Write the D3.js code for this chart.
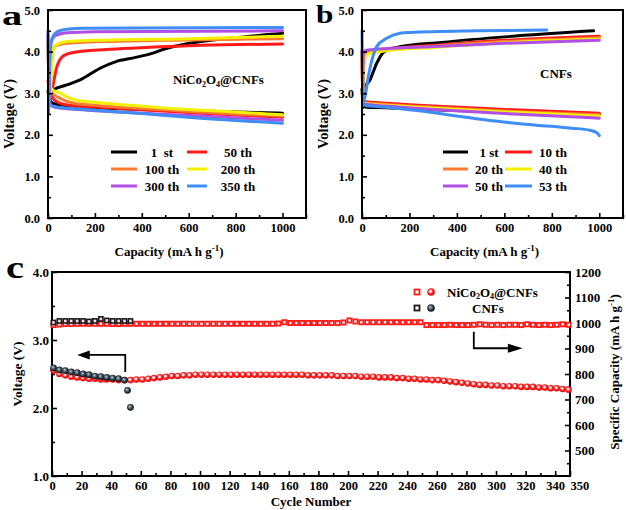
<!DOCTYPE html>
<html><head><meta charset="utf-8">
<script src="https://cdn.jsdelivr.net/npm/d3@7"></script>
<style>
body{margin:0;background:#fff}
svg{display:block}
text{font-family:"Liberation Serif","Times New Roman",serif;font-weight:bold;fill:#000}
</style>
</head><body>
<svg id="chart" width="626" height="510"></svg>
<script>
// ---------------- DATA ----------------
// Panel a (NiCo2O4@CNFs) : [capacity mAh/g, voltage V]
const labelsA = ["1  st", "50 th", "100 th", "200 th", "300 th", "350 th"];
const a1Charge   = [[10,3.0],[23,3.08],[80,3.2],[137,3.32],[222,3.6],[290,3.76],[365,3.85],[440,3.95],[507,4.08],[650,4.24],[792,4.33],[1000,4.44]];
const a1Dis      = [[0,3.05],[8,2.85],[20,2.76],[50,2.72],[150,2.67],[392,2.61],[507,2.59],[800,2.55],[1000,2.52]];
const a50Charge  = [[8,2.8],[23,3.24],[37,3.62],[66,3.9],[107,3.98],[249,4.05],[392,4.09],[650,4.15],[1000,4.18]];
const a50Dis     = [[0,3.3],[10,3.0],[25,2.85],[50,2.76],[100,2.7],[222,2.66],[400,2.6],[650,2.52],[1000,2.42]];
const a100Charge = [[8,2.9],[14,3.6],[20,4.02],[30,4.14],[80,4.2],[300,4.25],[600,4.28],[1000,4.31]];
const a100Dis    = [[0,4.2],[5,3.2],[15,3.02],[50,2.88],[110,2.76],[200,2.71],[500,2.6],[800,2.5],[1000,2.45]];
const a200Charge = [[10,3.0],[15,3.6],[20,4.0],[30,4.15],[80,4.24],[200,4.27],[600,4.31],[1000,4.37]];
const a200Dis    = [[0,4.2],[5,3.3],[15,3.1],[51,3.0],[107,2.85],[200,2.78],[350,2.71],[507,2.64],[792,2.55],[1000,2.48]];
const a300Charge = [[3,2.6],[8,3.8],[15,4.25],[30,4.38],[70,4.45],[200,4.48],[1000,4.5]];
const a300Dis    = [[0,4.4],[5,3.0],[10,2.72],[30,2.66],[100,2.62],[300,2.55],[650,2.45],[1000,2.35]];
const a350Charge = [[2,2.5],[5,3.6],[10,4.15],[20,4.35],[40,4.48],[80,4.54],[150,4.56],[400,4.57],[1000,4.58]];
const a350Dis    = [[0,4.5],[3,3.2],[6,2.78],[15,2.7],[40,2.66],[100,2.63],[200,2.59],[400,2.51],[650,2.4],[1000,2.28]];

// Panel b (CNFs)
const labelsB = ["1 st", "10 th", "20 th", "40 th", "50 th", "53 th"];
const b1Charge   = [[3,2.65],[8,3.1],[34,3.32],[62,3.72],[90,3.98],[146,4.1],[335,4.22],[616,4.36],[976,4.5]];
const b1Dis      = [[0,3.1],[5,2.7],[20,2.66],[100,2.65],[300,2.6],[600,2.55],[1000,2.5]];
const b10Charge  = [[3,2.8],[8,3.8],[20,3.97],[50,4.02],[100,4.06],[300,4.15],[600,4.27],[1000,4.37]];
const b10Dis     = [[0,4.0],[4,2.9],[10,2.8],[100,2.76],[300,2.69],[600,2.61],[1000,2.52]];
const b20Charge  = [[3,2.8],[8,3.75],[20,3.95],[50,4.0],[100,4.04],[300,4.13],[600,4.24],[1000,4.33]];
const b20Dis     = [[0,3.95],[4,2.85],[10,2.77],[100,2.73],[300,2.66],[600,2.57],[1000,2.48]];
const b40Charge  = [[3,2.8],[8,3.7],[20,3.93],[50,3.98],[100,4.02],[300,4.1],[600,4.21],[1000,4.3]];
const b40Dis     = [[0,3.93],[4,2.85],[10,2.75],[100,2.71],[300,2.64],[600,2.55],[1000,2.45]];
const b50Charge  = [[2,2.7],[6,3.9],[15,4.03],[50,4.05],[100,4.07],[300,4.12],[600,4.2],[1000,4.27]];
const b50Dis     = [[0,4.03],[4,2.85],[10,2.74],[100,2.69],[300,2.61],[600,2.51],[1000,2.4]];
const b53Charge  = [[2,2.7],[12,2.9],[30,3.5],[62,4.12],[104,4.32],[160,4.44],[203,4.46],[484,4.5],[779,4.52]];
const b53Dis     = [[0,4.5],[3,3.2],[6,2.75],[20,2.7],[62,2.68],[250,2.57],[400,2.45],[531,2.35],[700,2.25],[883,2.16],[960,2.11],[990,2.05],[1000,1.98]];

// Panel c : cycling
const cyclesNi = [1,5,9,13,17,21,25,29,33,37,41,45,49,53,57,61,65,69,73,77,81,85,89,93,97,101,105,109,113,117,121,125,129,133,137,141,145,149,153,157,161,165,169,173,177,181,185,189,193,197,201,205,209,213,217,221,225,229,233,237,241,245,249,253,257,261,265,269,273,277,281,285,289,293,297,301,305,309,313,317,321,325,329,333,337,341,345,349];
const capNi = [992,994,996,996,997,997,997,997,997,997,996,996,997,997,997,997,997,997,997,997,997,997,997,997,997,997,997,997,997,997,997,997,997,997,997,997,997,997,998,1003,1000,1000,1000,1000,1000,1000,1000,1000,1000,1002,1010,1006,1003,1003,1003,1003,1003,1003,1003,1003,1003,1003,1003,992,992,992,992,993,992,992,992,993,995,993,992,993,992,993,993,992,995,993,992,993,992,993,995,993];
const voltNi = [2.55,2.50,2.48,2.46,2.45,2.44,2.43,2.43,2.42,2.42,2.42,2.41,2.41,2.41,2.42,2.42,2.43,2.44,2.45,2.46,2.47,2.47,2.48,2.48,2.49,2.49,2.49,2.49,2.49,2.49,2.49,2.49,2.49,2.49,2.49,2.49,2.49,2.49,2.49,2.49,2.49,2.49,2.49,2.48,2.48,2.48,2.48,2.48,2.47,2.47,2.47,2.47,2.46,2.46,2.46,2.45,2.45,2.45,2.44,2.44,2.43,2.43,2.42,2.42,2.41,2.41,2.40,2.39,2.38,2.37,2.36,2.35,2.34,2.34,2.33,2.33,2.32,2.32,2.32,2.31,2.31,2.31,2.30,2.30,2.29,2.29,2.28,2.27];
const cyclesCnfCap = [1,5,9,13,17,21,25,29,33,37,41,45,49,53];
const capCnf = [1002,1008,1008,1008,1008,1008,1006,1008,1016,1010,1008,1008,1008,1008];
const cyclesCnfV = [1,5,9,13,17,21,25,29,33,37,41,45,49,51,53];
const voltCnf = [2.59,2.56,2.55,2.53,2.52,2.50,2.49,2.47,2.46,2.45,2.44,2.43,2.41,2.26,2.01];

const xTicksAB = [0,200,400,600,800,1000];
const yTicksAB = [0,1,2,3,4,5];
const xTicksC = [0,20,40,60,80,100,120,140,160,180,200,220,240,260,280,300,320,340,350];
const yTicksCL = [1,2,3,4];
const yTicksCR = [500,600,700,800,900,1000,1100,1200];

// ---------------- STYLE ----------------
const colors = ["#000000","#ff1a1a","#ff7a30","#f2f200","#b24de6","#3f8ef5"];
const FONT = '"Liberation Serif","Times New Roman",serif';

const svg = d3.select("#chart");
const defs = svg.append("defs");
function sphere(id, stops){
  const g = defs.append("radialGradient").attr("id", id).attr("cx","45%").attr("cy","45%").attr("r","55%").attr("fx","40%").attr("fy","38%");
  stops.forEach(s => g.append("stop").attr("offset", s[0]).attr("stop-color", s[1]));
}
sphere("gRed", [["0%","#ffffff"],["30%","#ffd0d0"],["55%","#ff2a2a"],["100%","#e60000"]]);
sphere("gDark", [["0%","#d8e4f0"],["30%","#6b7c8c"],["70%","#27323c"],["100%","#0c1016"]]);

function styleAxis(g, fs){
  g.select(".domain").remove();
  g.selectAll("line").attr("stroke","#000").attr("stroke-width",1.6);
  g.selectAll("text").attr("font-family",FONT).attr("font-size",fs).attr("font-weight","bold").attr("fill","#000");
}

// ---------------- PANELS a & b ----------------
function linePanel(x, y, curves, labels, legendPos, noteText, notePos){
  const [x0,x1] = x.range(), [y0,y1] = y.range();
  const g = svg.append("g");
  const line = d3.line().x(d=>x(d[0])).y(d=>y(d[1])).curve(d3.curveMonotoneX);
  curves.forEach((c,i)=>{
    c.forEach(arr=>{
      g.append("path").attr("d", line(arr)).attr("fill","none")
        .attr("stroke", colors[i]).attr("stroke-width",3).attr("stroke-linejoin","round").attr("stroke-linecap","round");
    });
  });
  // axes
  g.append("g").attr("transform",`translate(0,${y0})`)
    .call(d3.axisBottom(x).tickValues(xTicksAB).tickSize(-5).tickPadding(5).tickFormat(d3.format("d"))).call(s=>styleAxis(s,12.5));
  g.append("g").attr("transform",`translate(0,${y0})`)
    .call(d3.axisBottom(x).tickValues(xTicksAB.map(v=>v+100)).tickSize(-3).tickFormat("")).call(s=>styleAxis(s,12));
  g.append("g").attr("transform",`translate(${x0},0)`)
    .call(d3.axisLeft(y).tickValues(yTicksAB).tickSize(-5).tickPadding(8).tickFormat(d3.format(".1f"))).call(s=>styleAxis(s,12.5));
  g.append("g").attr("transform",`translate(${x0},0)`)
    .call(d3.axisLeft(y).tickValues(yTicksAB.slice(0,5).map(v=>v+0.5)).tickSize(-3).tickFormat("")).call(s=>styleAxis(s,12));
  g.append("rect").attr("x",x0).attr("y",y1).attr("width",x1-x0).attr("height",y0-y1)
    .attr("fill","none").attr("stroke","#000").attr("stroke-width",2);
  // axis titles
  const xt = g.append("text").attr("x",(x0+x1)/2 - 8).attr("y",256).attr("text-anchor","middle").attr("font-size",13);
  xt.append("tspan").text("Capacity (mA h g");
  xt.append("tspan").attr("font-size",9).attr("dy",-5).text("-1");
  xt.append("tspan").attr("dy",5).text(")");
  g.append("text").attr("transform",`translate(${x0-34},${(y0+y1)/2}) rotate(-90)`).attr("text-anchor","middle")
    .attr("font-size",14.5).text("Voltage (V)");
  // legend
  labels.forEach((lab,i)=>{
    const col = i%2, row = Math.floor(i/2);
    const lp = legendPos[col];
    const yy = legendPos.rows[row];
    g.append("line").attr("x1",lp.lx0).attr("x2",lp.lx1).attr("y1",yy).attr("y2",yy)
      .attr("stroke",colors[i]).attr("stroke-width",3);
    g.append("text").attr("x",lp.tx).attr("y",yy+4.5).attr("text-anchor","middle").attr("font-size",13)
      .attr("xml:space","preserve").style("white-space","pre").text(lab);
  });
  // note
  const nt = g.append("text").attr("x",notePos[0]).attr("y",notePos[1]).attr("font-size",13);
  noteText.forEach(p=>{
    const t = nt.append("tspan").text(p.t);
    if(p.sub){ t.attr("font-size",8).attr("dy",2.5); }
    else if(p.after){ t.attr("dy",-2.5); }
  });
  return g;
}

const xa = d3.scaleLinear([0,1100],[48,306]);
const ya = d3.scaleLinear([0,5],[218,10]);
linePanel(xa, ya,
  [[a1Charge,a1Dis],[a50Charge,a50Dis],[a100Charge,a100Dis],[a200Charge,a200Dis],[a300Charge,a300Dis],[a350Charge,a350Dis]],
  labelsA,
  {0:{lx0:111,lx1:137,tx:162},1:{lx0:187,lx1:207,tx:238},rows:[152,169,186]},
  [{t:"NiCo"},{t:"2",sub:true},{t:"O",after:true},{t:"4",sub:true},{t:"@CNFs",after:true}],
  [173,84]);

const xb = d3.scaleLinear([0,1100],[362,623]);
const yb = d3.scaleLinear([0,5],[218,10]);
linePanel(xb, yb,
  [[b1Charge,b1Dis],[b10Charge,b10Dis],[b20Charge,b20Dis],[b40Charge,b40Dis],[b50Charge,b50Dis],[b53Charge,b53Dis]],
  labelsB,
  {0:{lx0:443,lx1:468,tx:489},1:{lx0:505,lx1:532,tx:553},rows:[152,169,186]},
  [{t:"CNFs"}],
  [540,78]);

// panel letters
svg.append("text").attr("transform","translate(2,24.5) scale(1.5,1)").attr("font-size",27).text("a");
svg.append("text").attr("transform","translate(316,22.5) scale(1.25,1)").attr("font-size",25).text("b");
svg.append("text").attr("transform","translate(6,278) scale(1.35,1.05)").attr("font-size",30).text("c");

// ---------------- PANEL c ----------------
const xc = d3.scaleLinear([0,350],[52,570]);
const ycL = d3.scaleLinear([1,4],[476,272]);
const ycR = d3.scaleLinear([400,1200],[476,272]);
const gc = svg.append("g");

// axes
gc.append("g").attr("transform","translate(0,476)")
  .call(d3.axisBottom(xc).tickValues(xTicksC).tickSize(-5).tickPadding(5).tickFormat(d3.format("d"))).call(s=>styleAxis(s,12.5))
  .call(s=>s.selectAll(".tick").filter(d=>d===350).select("text").attr("text-anchor","start").attr("x",0));
gc.append("g").attr("transform","translate(0,476)")
  .call(d3.axisBottom(xc).tickValues(xTicksC.slice(0,17).map(v=>v+10)).tickSize(-3).tickFormat("")).call(s=>styleAxis(s,12));
gc.append("g").attr("transform","translate(52,0)")
  .call(d3.axisLeft(ycL).tickValues(yTicksCL).tickSize(-5).tickPadding(3).tickFormat(d3.format(".1f"))).call(s=>styleAxis(s,13));
gc.append("g").attr("transform","translate(52,0)")
  .call(d3.axisLeft(ycL).tickValues(yTicksCL.slice(0,3).map(v=>v+0.5)).tickSize(-3).tickFormat("")).call(s=>styleAxis(s,12));
gc.append("g").attr("transform","translate(570,0)")
  .call(d3.axisRight(ycR).tickValues(yTicksCR).tickSize(-5).tickPadding(5).tickFormat(d3.format("d"))).call(s=>styleAxis(s,13));
gc.append("g").attr("transform","translate(570,0)")
  .call(d3.axisRight(ycR).tickValues(yTicksCR.map(v=>v-50)).tickSize(-3).tickFormat("")).call(s=>styleAxis(s,12));
gc.append("rect").attr("x",52).attr("y",272).attr("width",518).attr("height",204)
  .attr("fill","none").attr("stroke","#000").attr("stroke-width",2);

// NiCo2O4 capacity squares
const sq = 4.2;
gc.append("g").selectAll("rect").data(cyclesNi.map((c,i)=>[c,capNi[i]])).join("rect")
  .attr("x",d=>xc(d[0])-sq/2).attr("y",d=>ycR(d[1])-sq/2).attr("width",sq).attr("height",sq)
  .attr("fill","#fff").attr("stroke","#ff1a1a").attr("stroke-width",1.8);
// NiCo2O4 voltage spheres
gc.append("g").selectAll("circle").data(cyclesNi.map((c,i)=>[c,voltNi[i]])).join("circle")
  .attr("cx",d=>xc(d[0])).attr("cy",d=>ycL(d[1])).attr("r",3.3).attr("fill","url(#gRed)");
// CNF capacity squares
gc.append("g").selectAll("rect").data(cyclesCnfCap.map((c,i)=>[c,capCnf[i]])).join("rect")
  .attr("x",d=>xc(d[0])-sq/2).attr("y",d=>ycR(d[1])-sq/2).attr("width",sq).attr("height",sq)
  .attr("fill","#f4e0ec").attr("stroke","#1a1a1a").attr("stroke-width",1.6);
// CNF voltage spheres
gc.append("g").selectAll("circle").data(cyclesCnfV.map((c,i)=>[c,voltCnf[i]])).join("circle")
  .attr("cx",d=>xc(d[0])).attr("cy",d=>ycL(d[1])).attr("r",3.4).attr("fill","url(#gDark)");

// arrows
gc.append("path").attr("d",`M${xc(49.5)},${ycL(2.53)}V${ycL(2.78)}H${xc(24)}`).attr("fill","none").attr("stroke","#000").attr("stroke-width",1.8);
gc.append("path").attr("d",`M${xc(17)},${ycL(2.78)}L${xc(25.5)},${ycL(2.78)-4.5}L${xc(25.5)},${ycL(2.78)+4.5}Z`).attr("fill","#000");
gc.append("path").attr("d",`M${xc(285)},${ycR(966)}V${ycR(901)}H${xc(308)}`).attr("fill","none").attr("stroke","#000").attr("stroke-width",1.8);
gc.append("path").attr("d",`M${xc(318)},${ycR(901)}L${xc(308)},${ycR(901)-4.5}L${xc(308)},${ycR(901)+4.5}Z`).attr("fill","#000");

// legend c
gc.append("rect").attr("x",417-2.5).attr("y",292-2.5).attr("width",5).attr("height",5).attr("fill","#fff").attr("stroke","#ff1a1a").attr("stroke-width",1.8);
gc.append("circle").attr("cx",431).attr("cy",292).attr("r",3.8).attr("fill","url(#gRed)");
gc.append("rect").attr("x",417-2.5).attr("y",308-2.5).attr("width",5).attr("height",5).attr("fill","#fff").attr("stroke","#1a1a1a").attr("stroke-width",1.8);
gc.append("circle").attr("cx",431).attr("cy",308).attr("r",3.8).attr("fill","url(#gDark)");
const lt = gc.append("text").attr("x",447).attr("y",296.5).attr("font-size",13);
lt.append("tspan").text("NiCo");
lt.append("tspan").attr("font-size",8).attr("dy",2.5).text("2");
lt.append("tspan").attr("dy",-2.5).text("O");
lt.append("tspan").attr("font-size",8).attr("dy",2.5).text("4");
lt.append("tspan").attr("dy",-2.5).text("@CNFs");
gc.append("text").attr("x",472).attr("y",312.5).attr("font-size",13).text("CNFs");

// titles c
gc.append("text").attr("x",311).attr("y",506).attr("text-anchor","middle").attr("font-size",13).text("Cycle Number");
gc.append("text").attr("transform","translate(22,374) rotate(-90)").attr("text-anchor","middle").attr("font-size",13.5).text("Voltage (V)");
const rt = gc.append("text").attr("transform","translate(619,372) rotate(-90)").attr("text-anchor","middle").attr("font-size",13);
rt.append("tspan").text("Specific Capacity (mA h g");
rt.append("tspan").attr("font-size",9).attr("dy",-5).text("-1");
rt.append("tspan").attr("dy",5).text(")");
</script>
</body></html>
